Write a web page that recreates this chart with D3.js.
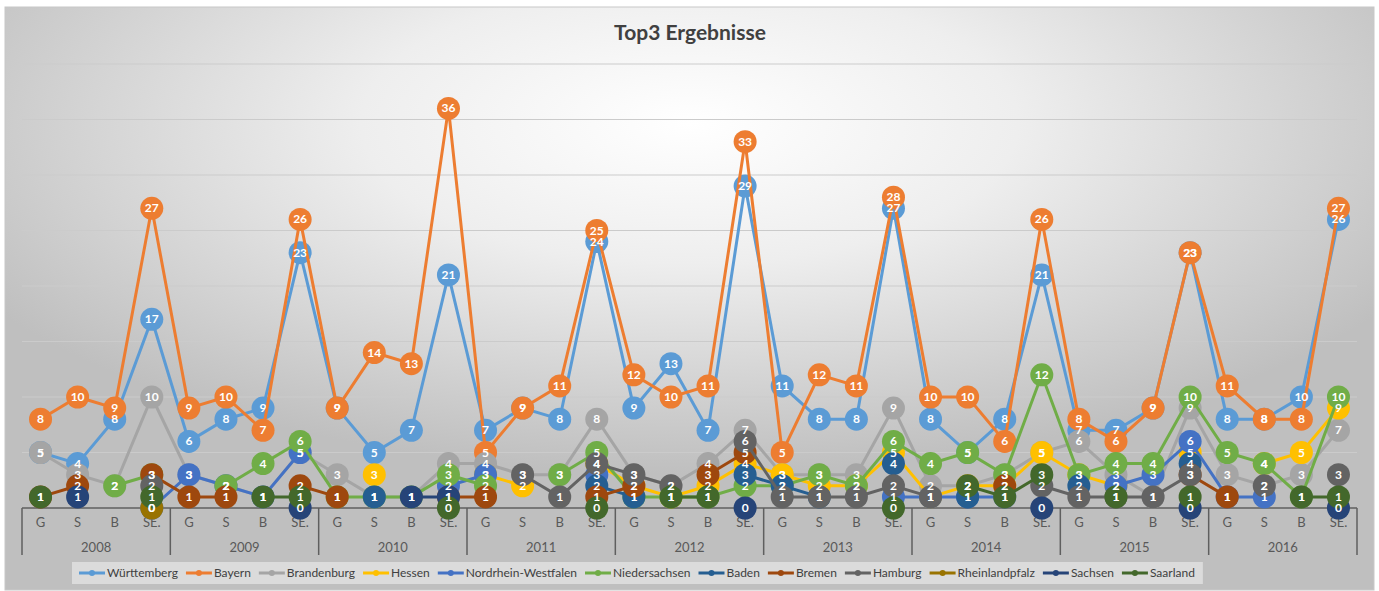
<!DOCTYPE html>
<html><head><meta charset="utf-8">
<script src="https://cdn.jsdelivr.net/npm/d3@7"></script>
<style>body{margin:0;background:#fff}svg{display:block}</style>
</head><body>
<svg id="c" width="1379" height="591"></svg>
<script>
const years = ["2008","2009","2010","2011","2012","2013","2014","2015","2016"];
const quarters = ["G","S","B","SE."];
const seriesNames = ["Württemberg","Bayern","Brandenburg","Hessen","Nordrhein-Westfalen","Niedersachsen","Baden","Bremen","Hamburg","Rheinlandpfalz","Sachsen","Saarland"];
const seriesColors = ["#5B9BD5","#ED7D31","#A5A5A5","#FFC000","#4472C4","#70AD47","#255E91","#9E480E","#636363","#997300","#264478","#43682B"];
const _ = null;
const wuerttemberg = [5,4,8,17, 6,8,9,23, 9,5,7,21, 7,9,8,24, 9,13,7,29, 11,8,8,27, 8,5,8,21, 7,7,9,23, 8,8,10,26];
const bayern       = [8,10,9,27, 9,10,7,26, 9,14,13,36, 5,9,11,25, 12,10,11,33, 5,12,11,28, 10,10,6,26, 8,6,9,23, 11,8,8,27];
const brandenburg  = [5,3,2,10, 3,2,1,5, 3,1,1,4, 4,3,3,8, 3,2,4,7, 3,3,3,9, 2,2,3,5, 6,3,1,9, 3,2,3,7];
const hessen       = [_,_,_,_, _,_,_,_, _,3,_,_, 3,2,_,4, 2,1,2,4, 3,2,2,5, 1,2,2,5, 3,2,_,5, _,4,5,9];
const nrw          = [_,_,_,0, 3,2,1,5, _,_,_,2, 3,_,_,3, _,_,_,_, _,_,_,1, 1,1,1,_, _,2,3,6, 1,1,_,_];
const niedersachsen= [_,_,2,3, _,2,4,6, 1,1,1,3, 2,_,3,5, 1,1,1,2, 2,3,2,6, 4,5,3,12, 3,4,4,10, 5,4,1,10];
const baden        = [_,_,_,_, _,_,_,_, _,1,_,_, _,_,_,2, 1,_,_,3, 2,1,_,4, _,1,_,_, 2,_,_,4, _,_,_,_];
const bremen       = [1,2,_,3, 1,1,_,2, 1,_,_,1, 1,_,_,1, 2,_,3,5, _,_,_,_, _,_,2,_, _,_,_,3, 1,_,_,_];
const hamburg      = [_,_,_,2, _,_,_,_, _,_,_,_, _,3,1,4, 3,2,_,6, 1,1,1,2, 1,_,_,2, 1,1,1,3, _,2,_,3];
const rheinlandpfalz=[_,_,_,0, _,_,_,_, _,_,_,_, _,_,_,_, _,_,_,_, _,_,_,_, _,_,_,_, _,_,_,_, _,_,_,_];
const sachsen      = [_,1,_,_, _,_,_,0, _,_,1,1, _,_,_,_, _,_,_,0, _,_,_,_, _,_,_,0, _,_,_,0, _,_,_,0];
const saarland     = [1,_,_,1, _,_,1,1, _,_,_,0, _,_,_,0, _,1,1,_, _,_,_,0, _,2,1,3, _,1,_,1, _,_,1,1];
const seriesValues = [wuerttemberg,bayern,brandenburg,hessen,nrw,niedersachsen,baden,bremen,hamburg,rheinlandpfalz,sachsen,saarland];
const yTicks = [0,5,10,15,20,25,30,35,40];

const svg = d3.select("#c");
const defs = svg.append("defs");
const rg = defs.append("radialGradient").attr("id","bg").attr("cx","50%").attr("cy","20%").attr("r","60%");
rg.append("stop").attr("offset","0%").attr("stop-color","#ffffff");
rg.append("stop").attr("offset","40%").attr("stop-color","#eeeeee");
rg.append("stop").attr("offset","100%").attr("stop-color","#bfbfbf");
svg.append("rect").attr("x",5).attr("y",7).attr("width",1369).attr("height",583).attr("fill","url(#bg)").attr("stroke","#c8c8c8");

svg.append("text").attr("x",690).attr("y",40).attr("text-anchor","middle")
  .attr("font-family","Lato, 'Open Sans', sans-serif").attr("font-weight","bold").attr("font-size",21).attr("fill","#404040").text("Top3 Ergebnisse");

const idx = d3.range(years.length*quarters.length);
const x = d3.scaleBand().domain(idx).range([22,1357]);
const y = d3.scaleLinear().domain([0,40]).range([508,64]);
const cx = i => x(i) + x.bandwidth()/2;

svg.append("g").selectAll("line").data(yTicks.slice(1)).join("line")
  .attr("x1",22).attr("x2",1357).attr("y1",d=>y(d)).attr("y2",d=>y(d))
  .attr("stroke","#cbcbcb").attr("stroke-width",1.2);

const ax = svg.append("g");
ax.append("line").attr("x1",22).attr("x2",1357).attr("y1",y(0)).attr("y2",y(0)).attr("stroke","#5f5f5f").attr("stroke-width",1.5);
ax.selectAll(".sep").data(d3.range(years.length+1)).join("line")
  .attr("x1",d=>x(0)+d*4*x.bandwidth()).attr("x2",d=>x(0)+d*4*x.bandwidth())
  .attr("y1",y(0)).attr("y2",555).attr("stroke","#5f5f5f").attr("stroke-width",1.5);
ax.selectAll(".q").data(idx).join("text")
  .attr("x",d=>cx(d)).attr("y",527).attr("text-anchor","middle")
  .attr("font-family","Lato, 'Open Sans', sans-serif").attr("font-size",13).attr("fill","#595959")
  .text(d=>quarters[d%4]);
ax.selectAll(".yr").data(years).join("text")
  .attr("x",(d,i)=>x(0)+(i*4+2)*x.bandwidth()).attr("y",552).attr("text-anchor","middle")
  .attr("font-family","Lato, 'Open Sans', sans-serif").attr("font-size",13).attr("fill","#595959")
  .text(d=>d);

const line = d3.line().defined(d=>d.v!=null).x(d=>cx(d.i)).y(d=>y(d.v));
const data = seriesNames.map((n,s)=>({name:n,color:seriesColors[s],pts:seriesValues[s].map((v,i)=>({i,v}))}));
const gs = svg.append("g");
data.forEach(s=>{
  const g = gs.append("g");
  g.append("path").attr("d",line(s.pts)).attr("fill","none").attr("stroke",s.color).attr("stroke-width",3);
  g.selectAll("circle").data(s.pts.filter(d=>d.v!=null)).join("circle")
    .attr("cx",d=>cx(d.i)).attr("cy",d=>y(d.v)).attr("r",11.5).attr("fill",s.color);
});
const gl = svg.append("g");
data.forEach(s=>{
  gl.append("g").selectAll("text").data(s.pts.filter(d=>d.v!=null)).join("text")
    .attr("x",d=>cx(d.i)).attr("y",d=>y(d.v)+4).attr("text-anchor","middle")
    .attr("font-family","Lato, 'Open Sans', sans-serif").attr("font-weight","bold").attr("font-size",12).attr("fill","#ffffff")
    .text(d=>d.v);
});

const lg = svg.append("g");
const lrect = lg.append("rect").attr("x",72).attr("y",562).attr("height",22).attr("fill","#e4e4e4").attr("opacity",0.75);
let lx = 79;
data.forEach(s=>{
  const e = lg.append("g");
  e.append("line").attr("x1",lx).attr("x2",lx+26).attr("y1",573).attr("y2",573).attr("stroke",s.color).attr("stroke-width",3);
  e.append("circle").attr("cx",lx+13).attr("cy",573).attr("r",3).attr("fill",s.color);
  const t = e.append("text").attr("x",lx+28).attr("y",577)
    .attr("font-family","Lato, 'Open Sans', sans-serif").attr("font-size",12).attr("fill","#404040").text(s.name);
  lx += 28 + t.node().getComputedTextLength() + 8;
});
lrect.attr("width", lx - 72);
</script>
</body></html>
